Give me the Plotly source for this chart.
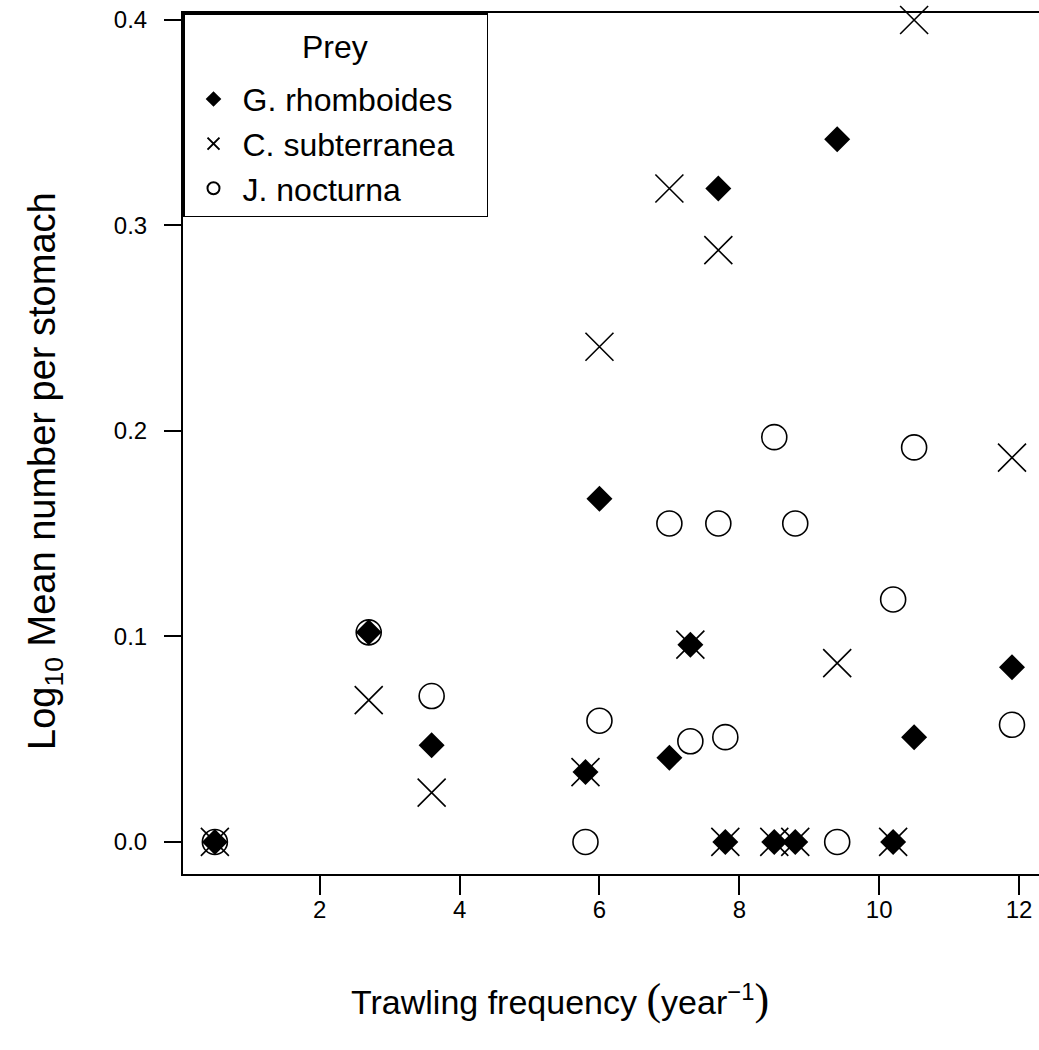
import plotly.graph_objects as go

# Trawling frequency of each sampling site (per year)
trawl_freq = [0.5, 2.7, 3.6, 5.8, 6.0, 7.0, 7.3, 7.7, 7.8, 8.5, 8.8, 9.4, 10.2, 10.5, 11.9]

# log10 mean number of prey per stomach at each site
g_rhomboides = [0.0, 0.102, 0.047, 0.034, 0.167, 0.041, 0.096, 0.318, 0.0, 0.0, 0.0, 0.342, 0.0, 0.051, 0.085]
c_subterranea = [0.0, 0.069, 0.024, 0.034, 0.241, 0.318, 0.096, 0.288, 0.0, 0.0, 0.0, 0.087, 0.0, 0.400, 0.187]
j_nocturna = [0.0, 0.102, 0.071, 0.0, 0.059, 0.155, 0.049, 0.155, 0.051, 0.197, 0.155, 0.0, 0.118, 0.192, 0.057]

species = ["G. rhomboides", "C. subterranea", "J. nocturna"]

x_ticks = [2, 4, 6, 8, 10, 12]
y_ticks = [0.0, 0.1, 0.2, 0.3, 0.4]
y_tick_text = ["0.0", "0.1", "0.2", "0.3", "0.4"]

FONT = "Arial, 'Liberation Sans', sans-serif"
SERIF = "'Liberation Serif', 'Times New Roman', serif"
PAD = "\u00a0\u00a0\u00a0"  # right-hand breathing room inside the legend box

fig = go.Figure()
fig.add_trace(go.Scatter(
    x=trawl_freq, y=g_rhomboides, mode="markers", name=species[0] + PAD,
    legendgroup="g", cliponaxis=False,
    marker=dict(symbol="diamond", size=20, color="black", line=dict(width=0))))
fig.add_trace(go.Scatter(
    x=trawl_freq, y=c_subterranea, mode="markers", name=species[1] + PAD,
    legendgroup="c", cliponaxis=False,
    marker=dict(symbol="x-thin-open", size=28, color="black",
                line=dict(width=1.6, color="black"))))
fig.add_trace(go.Scatter(
    x=trawl_freq, y=j_nocturna, mode="markers", name=species[2] + PAD,
    legendgroup="j", cliponaxis=False,
    marker=dict(symbol="circle-open", size=25, color="black",
                line=dict(width=1.6, color="black"))))

# Axis extents with padding around the data (right border sits past the page edge)
xmin, xmax = min(trawl_freq), max(trawl_freq)
xr = xmax - xmin
x_lo = xmin - 0.04 * xr
x_hi = xmax + 0.04 * xr - 0.07
y_lo, y_hi = -0.0156, 0.4034

fig.update_layout(
    width=1039, height=1050,
    margin=dict(l=183, r=0, t=13, b=176),
    paper_bgcolor="white", plot_bgcolor="white",
    font=dict(family=FONT, color="black", size=24),
    showlegend=True,
    legend=dict(
        x=0, y=1, xanchor="left", yanchor="top",
        bgcolor="rgba(255,255,255,0)", bordercolor="black", borderwidth=1.5,
        font=dict(size=32, family=FONT),
        # blank title row reserves the space used by the "Prey" heading
        title=dict(text="<span style='font-size:32px'>\u00a0</span>",
                   side="top", font=dict(size=44, family=FONT)),
        itemsizing="constant", tracegroupgap=0, itemwidth=48,
    ),
    xaxis=dict(
        range=[x_lo, x_hi], tickvals=x_ticks, ticks="outside", ticklen=19,
        tickwidth=1.5, tickcolor="black", showline=True, linecolor="black",
        linewidth=2, mirror=True, showgrid=False, zeroline=False,
        tickfont=dict(size=24), ticklabelstandoff=-6,
    ),
    yaxis=dict(
        range=[y_lo, y_hi], tickvals=y_ticks, ticktext=y_tick_text,
        ticks="outside", ticklen=17, tickwidth=1.5, tickcolor="black",
        showline=True, linecolor="black", linewidth=2, mirror=False,
        showgrid=False, zeroline=False, tickfont=dict(size=24),
        ticklabelstandoff=12,
    ),
)

# Legend heading
fig.add_annotation(
    text="Prey", xref="paper", yref="paper",
    x=(335 - 183) / 856, y=(874 - 47) / 861,
    xanchor="center", yanchor="middle", showarrow=False,
    font=dict(size=32, family=FONT),
)

# Axis titles
fig.add_annotation(
    text="Log<sub>10</sub> Mean number per stomach",
    xref="paper", yref="paper", x=(45 - 183) / 856, y=(874 - 471) / 861,
    xanchor="center", yanchor="middle", textangle=-90, showarrow=False,
    font=dict(size=38, family=FONT),
)
fig.add_annotation(
    text=("Trawling frequency "
          f"<span style=\"font-family:{SERIF}; font-size:44px\">(</span>"
          "year<sup>\u22121</sup>"
          f"<span style=\"font-family:{SERIF}; font-size:44px\">)</span>"),
    xref="paper", yref="paper", x=(560 - 183) / 856, y=(874 - 1000) / 861,
    xanchor="center", yanchor="middle", showarrow=False,
    font=dict(size=34, family=FONT),
)

fig.write_html("out.html")
